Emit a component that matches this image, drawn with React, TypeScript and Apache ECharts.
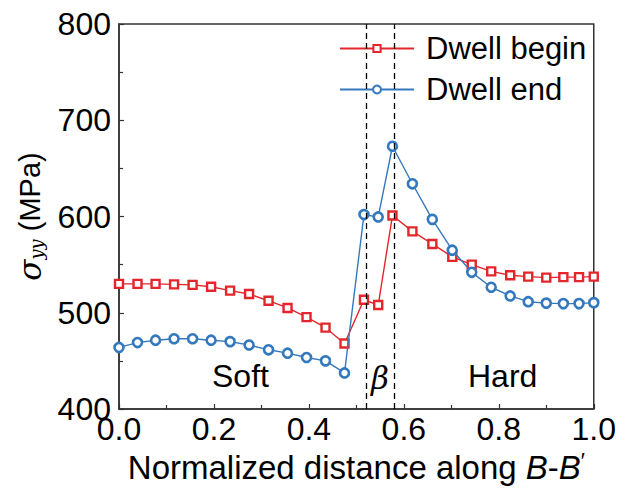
import React, { useEffect, useRef } from "react";
import * as echarts from "echarts";

const xPos = [0, 0.039, 0.077, 0.116, 0.155, 0.194, 0.234, 0.274, 0.315, 0.355, 0.395, 0.435, 0.475, 0.516, 0.546, 0.576, 0.618, 0.66, 0.702, 0.743, 0.784, 0.824, 0.862, 0.9, 0.936, 0.969, 1.0];
const dwellBegin = [530, 530, 530, 529.5, 529, 527, 523, 519.5, 512.5, 505, 495.5, 484.5, 468, 513.5, 508, 601, 584.5, 571.5, 558, 550, 543, 539, 537.5, 536.5, 537, 537, 537.5];
const dwellEnd = [464, 469, 471.5, 473, 473, 471.5, 470, 466.5, 461.5, 458, 453.5, 450, 437.5, 602, 599.5, 673, 634, 597, 565, 542, 526.5, 517.5, 511.5, 510, 509.5, 509.5, 510.5];
const betaBounds = [0.515, 0.577];
const seriesNames = ["Dwell begin", "Dwell end"];
const regionLabels = ["Soft", "β", "Hard"];
const xTicks = { min: 0, max: 1, interval: 0.2 };
const yTicks = { min: 400, max: 800, interval: 100 };

const RED = "#e3262b";
const BLUE = "#3479bd";
const FONT = "'Liberation Sans', Arial, sans-serif";

export default function App() {
  const ref = useRef<HTMLDivElement>(null);
  useEffect(() => {
    if (!ref.current) return;
    const chart = echarts.init(ref.current, undefined, { renderer: "svg" });
    const mk = (vals: number[]) => xPos.map((x, i) => [x, vals[i]]);
    const legendText = { fontSize: 31, color: "#000", fontFamily: FONT, padding: [0, 0, 0, 7] };
    chart.setOption({
      animation: false,
      textStyle: { fontFamily: FONT },
      grid: { left: 119, top: 24, right: 23, bottom: 88, show: true, borderColor: "#333", borderWidth: 1.5, backgroundColor: "transparent" },
      legend: [
        {
          data: [seriesNames[0]], left: 339, top: 33, orient: "vertical", padding: 0,
          itemWidth: 74, itemHeight: 9, itemGap: 0, textStyle: legendText,
        },
        {
          data: [seriesNames[1]], left: 339, top: 74, orient: "vertical", padding: 0,
          itemWidth: 74, itemHeight: 10, itemGap: 0, textStyle: legendText,
        },
      ],
      xAxis: {
        type: "value", min: xTicks.min, max: xTicks.max, interval: xTicks.interval,
        axisLine: { lineStyle: { color: "#333", width: 1.5 } },
        axisTick: { inside: true, length: 5, lineStyle: { color: "#333", width: 1.2 } },
        minorTick: { show: true, splitNumber: 2, length: 4, lineStyle: { color: "#333", width: 1.2 } },
        splitLine: { show: false },
        axisLabel: { fontSize: 32, color: "#000", margin: 4, formatter: (v: number) => v.toFixed(1), fontFamily: FONT },
        name: "Normalized distance along {i|B}-{i|B}{sup|′}",
        nameLocation: "middle", nameGap: 40,
        nameTextStyle: {
          fontSize: 33, color: "#000", fontFamily: FONT,
          rich: {
            i: { fontSize: 33, fontStyle: "italic", color: "#000", fontFamily: FONT },
            sup: { fontSize: 22, color: "#000", fontFamily: FONT, verticalAlign: "top", padding: [0, 0, 14, 0] },
          },
        },
      },
      yAxis: {
        type: "value", min: yTicks.min, max: yTicks.max, interval: yTicks.interval,
        axisLine: { show: true, lineStyle: { color: "#333", width: 1.5 } },
        axisTick: { show: true, inside: true, length: 5, lineStyle: { color: "#333", width: 1.2 } },
        minorTick: { show: true, splitNumber: 2, length: 4, lineStyle: { color: "#333", width: 1.2 } },
        splitLine: { show: false },
        axisLabel: { fontSize: 32, color: "#000", margin: 8, fontFamily: FONT },
        name: "{s|σ}{sub|yy} (MPa)",
        nameLocation: "middle", nameGap: 74, nameRotate: 90,
        nameTextStyle: {
          fontSize: 29, color: "#000", fontFamily: FONT,
          rich: {
            s: { fontSize: 31, fontStyle: "italic", color: "#000", fontFamily: "'DejaVu Serif', serif" },
            sub: { fontSize: 18, fontStyle: "italic", color: "#000", fontFamily: "'DejaVu Serif', serif", verticalAlign: "bottom", padding: [10, 0, 0, 0] },
          },
        },
      },
      series: [
        {
          name: seriesNames[0], type: "line", data: mk(dwellBegin),
          symbol: "rect", symbolSize: 8,
          lineStyle: { color: RED, width: 1.4 },
          itemStyle: { color: "#fff", borderColor: RED, borderWidth: 2.4 },
          color: RED,
          markLine: {
            silent: true, symbol: ["none", "none"], label: { show: false },
            lineStyle: { color: "#000", type: [6, 4], width: 1.3 },
            data: betaBounds.map((b) => ({ xAxis: b })),
          },
          z: 3,
        },
        {
          name: seriesNames[1], type: "line", data: mk(dwellEnd),
          symbol: "circle", symbolSize: 9,
          lineStyle: { color: BLUE, width: 1.4 },
          itemStyle: { color: "#fff", borderColor: BLUE, borderWidth: 2.6 },
          color: BLUE,
          z: 4,
        },
      ],
      graphic: [
        { type: "text", left: 212, top: 360, style: { text: regionLabels[0], fontSize: 32, fill: "#000", fontFamily: FONT } },
        { type: "text", left: 371, top: 362, style: { text: regionLabels[1], fontSize: 31, fill: "#000", fontStyle: "italic", fontFamily: "'DejaVu Serif', serif" } },
        { type: "text", left: 468, top: 360, style: { text: regionLabels[2], fontSize: 32, fill: "#000", fontFamily: FONT } },
      ],
    });
    return () => chart.dispose();
  }, []);
  return <div ref={ref} style={{ position: "absolute", left: 0, top: 0, width: 619, height: 497 }} />;
}
